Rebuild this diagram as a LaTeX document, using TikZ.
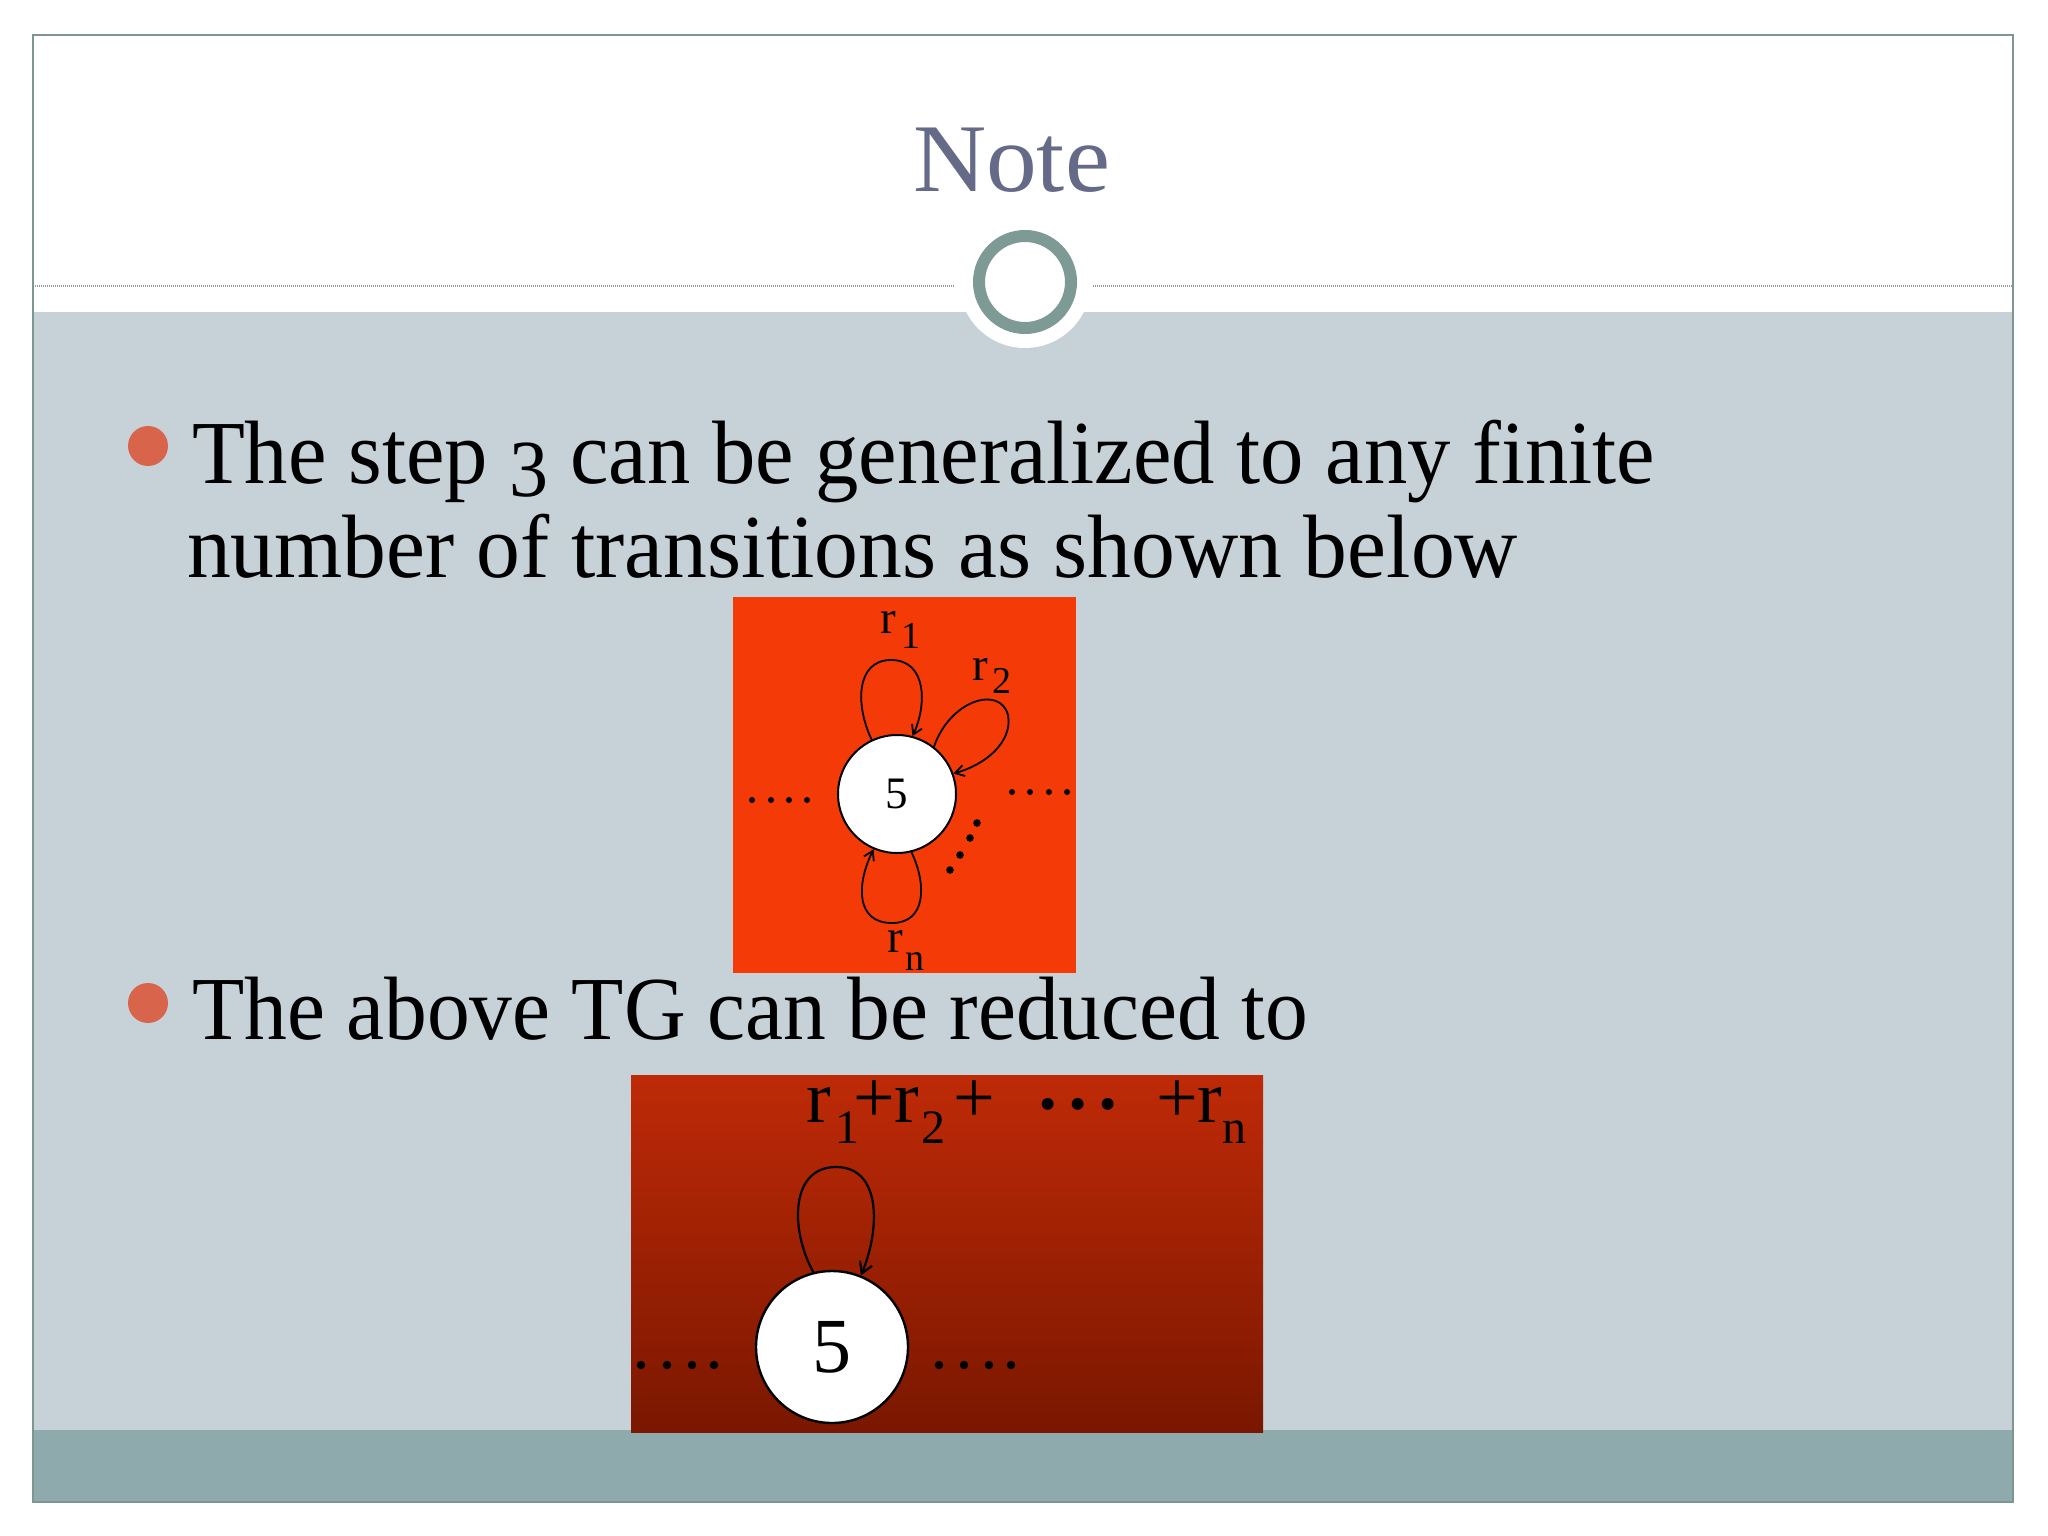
\documentclass[tikz,border=0pt]{standalone}
\usepackage{graphicx}
\usepackage{fontspec}
\setmainfont{Liberation Serif}
\usetikzlibrary{arrows.meta}
\definecolor{frameC}{HTML}{7D9690}
\definecolor{contentC}{HTML}{C6D2D7}
\definecolor{stripC}{HTML}{8FAAAC}
\definecolor{ringC}{HTML}{7E9A94}
\definecolor{titleC}{HTML}{646A88}
\definecolor{bulletC}{HTML}{D8654B}
\definecolor{redA}{HTML}{F43A06}
\definecolor{redTop}{HTML}{BF2A07}
\definecolor{redBot}{HTML}{7A1700}
\newcommand\fitw[2]{\resizebox{#1}{\height}{#2}}
\newcommand\fsz[1]{\fontsize{#1}{#1}\selectfont}
\newcommand\lo[3]{\raisebox{-#1pt}{\fsz{#2}#3}}
\newcommand\bx[2]{\makebox[#1pt][l]{#2}}
\newcommand\mdot{\makebox[30pt][c]{\raisebox{-15pt}{\fsz{100}·}}}
\tikzset{
  txt/.style={inner sep=0pt, outer sep=0pt, anchor=base west},
  bodytext/.style={txt, font=\fsz{90}, text=black},
  bulletdot/.style={circle, fill=bulletC, inner sep=0pt, minimum size=40pt},
  stateA/.style={circle, draw=black, fill=white, line width=2pt, inner sep=0pt, minimum size=118pt, font=\fsz{45}},
  stateB/.style={circle, draw=black, fill=white, line width=2.4pt, inner sep=0pt, minimum size=152pt, font=\fsz{78}},
  loopA/.style={draw=black, line width=1.8pt, -{Straight Barb[length=9pt,width=11pt]}},
  loopB/.style={draw=black, line width=2.2pt, -{Straight Barb[length=11pt,width=13pt]}},
  labA/.style={txt, font=\fsz{47}},
  labB/.style={txt, font=\fsz{74}},
}
\begin{document}
\begin{tikzpicture}[x=1pt,y=-1pt]
\useasboundingbox (0,0) rectangle (2048,1536);
\fill[white] (0,0) rectangle (2048,1536);
% slide areas
\fill[contentC] (33,312) rectangle (2013,1430);
\fill[stripC] (33,1430) rectangle (2013,1502);
\draw[gray!80, line width=1.5pt, dash pattern=on 1pt off 1pt] (33,286) -- (955,286);
\draw[gray!80, line width=1.5pt, dash pattern=on 1pt off 1pt] (1093,286) -- (2013,286);
\fill[white] (1025,282) circle (66);
\draw[ringC, line width=12pt] (1025,282) circle (46);
\draw[frameC, line width=2pt] (33,35) rectangle (2013,1502);
% title
\node[txt, font=\fsz{97}, text=titleC] (title) at (913,191) {\fitw{197pt}{Note}};
% bullets and text
\node[bulletdot] (b1) at (148,446) {};
\node[bodytext] (l1) at (192,483) {\fitw{1463pt}{The step \raisebox{-13pt}{\scalebox{0.9}{3}} can be generalized to any finite}};
\node[bodytext] (l2) at (187,577) {\fitw{1331pt}{number of transitions as shown below}};
\node[bulletdot] (b2) at (148,1003) {};
\node[bodytext] (l3) at (192,1039) {\fitw{1116pt}{The above TG can be reduced to}};
% ---------- diagram 1
\fill[redA] (733,597) rectangle (1076,973);
\node[stateA] (c1) at (897,794) {5};
\draw[loopA] (c1.115) .. controls (855,705) and (856,660) .. (891,660) .. controls (927,660) and (927,705) .. (c1.75);
\draw[loopA] (c1.52) .. controls (950,700) and (1000,685) .. (1008,715) .. controls (1013,742) and (985,765) .. (c1.20);
\draw[loopA] (c1.284) .. controls (927,885) and (926,923) .. (892,923) .. controls (856,923) and (856,885) .. (c1.247);
\node[labA] (r1) at (880,633) {\bx{21}{r}\lo{15}{38}{1}};
\node[labA] (r2) at (972,680) {\bx{20}{r}\lo{13}{38}{2}};
\node[labA] (rn) at (887,952) {\bx{18}{r}\lo{18}{38}{n}};
\foreach \x in {752,771,789,807} \fill[black] (\x,800) circle (3);
\foreach \x in {1012,1030,1049,1067} \fill[black] (\x,792) circle (3);
\foreach \p in {(977,823),(970,838),(960,855),(950,870)} \fill[black] \p circle (3.8);
% ---------- diagram 2
\shade[top color=redTop, bottom color=redBot] (631,1075) rectangle (1263,1432);
\node[stateB] (c2) at (832,1347) {5};
\draw[loopB] (c2.104) .. controls (790,1230) and (790,1167) .. (836,1167) .. controls (882,1167) and (880,1230) .. (c2.68);
\node[labB] (sum) at (806,1122) {\bx{29}{r}\bx{18}{\lo{21}{48}{1}}\bx{42}{+}\bx{26}{r}\bx{32}{\lo{21}{48}{2}}\bx{80}{+}%
  \mdot\mdot\mdot\bx{33}{}%
  \bx{41}{+}\bx{25}{r}\lo{21}{48}{n}};
\foreach \x in {641,667,692,714} \fill[black] (\x,1365) circle (4.2);
\foreach \x in {939,964,989,1011} \fill[black] (\x,1365) circle (4.2);
\end{tikzpicture}
\end{document}
